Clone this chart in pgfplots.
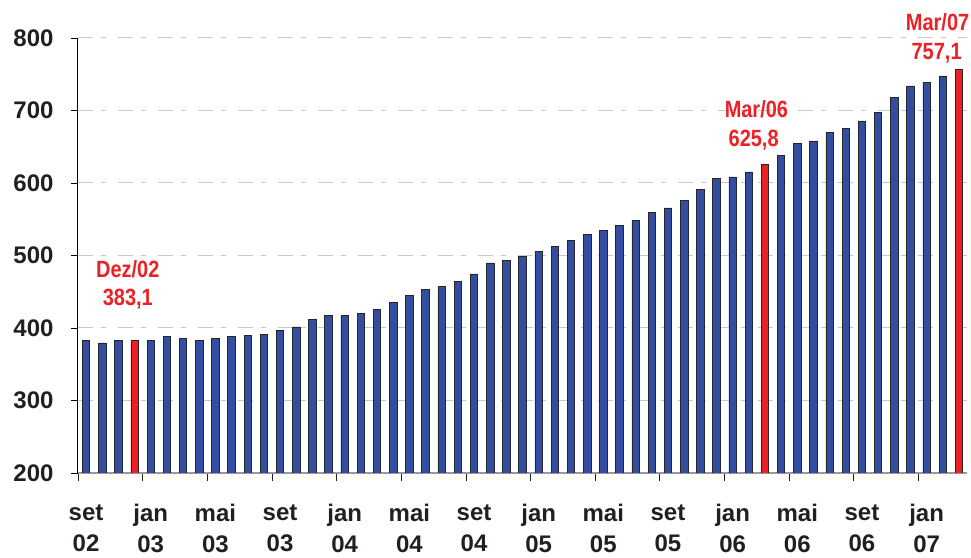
\documentclass[border=0pt]{standalone}
\usepackage{fontspec}
\setmainfont{Liberation Sans}
\newfontfamily\narrowfont[FakeStretch=0.85]{Liberation Sans}
\usepackage{pgfplots}
\pgfplotsset{compat=1.18}
\usetikzlibrary{calc}

\definecolor{barblue}{RGB}{51,78,160}
\definecolor{barred}{RGB}{237,32,38}
\definecolor{txt}{RGB}{35,31,32}
\definecolor{gridgray}{RGB}{200,200,200}

% month index (0 = set/02) and value
\pgfplotstableread{
x   y
0   383.0
1   379.4
2   383.0
4   383.0
5   388.1
6   386.2
7   383.0
8   386.2
9   388.0
10  389.5
11  391.7
12  396.3
13  401.4
14  411.9
15  417.0
16  417.0
17  420.6
18  425.8
19  434.7
20  444.9
21  453.7
22  456.9
23  463.9
24  474.5
25  489.8
26  493.1
27  498.6
28  505.6
29  512.5
30  521.3
31  529.6
32  534.7
33  541.7
34  548.6
35  559.3
36  565.7
37  576.2
38  591.5
39  606.4
40  608.3
41  615.2
43  637.7
44  654.7
45  658.0
46  669.9
47  675.4
48  685.6
49  697.1
50  718.2
51  733.9
52  738.9
53  747.7
}\bluebars

\pgfplotstableread{
x   y
3   383.1
42  625.8
54  757.1
}\redbars

\begin{document}
\begin{tikzpicture}
\begin{axis}[
    scale only axis,
    width=889pt, height=435pt,
    xmin=-0.5, xmax=54.5,
    ymin=200, ymax=800,
    ytick={200,300,...,800},
    axis x line*=bottom,
    axis y line*=left,
    x axis line style={draw=gray!80, line width=1.2pt},
    y axis line style={draw=black, line width=1pt},
    xtick={0,4,...,52},
    xticklabels={{set\\02},{jan\\03},{mai\\03},{set\\03},{jan\\04},{mai\\04},{set\\04},
                 {jan\\05},{mai\\05},{set\\05},{jan\\06},{mai\\06},{set\\06},{jan\\07}},
    minor xtick={-0.5,3.5,...,51.5},
    major x tick style={draw=none},
    minor x tick style={draw=txt, line width=0.8pt},
    minor tick length=8pt,
    tick align=outside,
    y tick style={draw=black, line width=0.8pt},
    major tick length=7pt,
    ymajorgrids=true,
    grid style={draw=gridgray, line width=1pt, dash pattern=on 15pt off 8pt on 5pt off 12pt},
    /pgf/number format/assume math mode=true,
    ticklabel style={font=\bfseries\fontsize{24}{31}\selectfont, text=txt},
    xticklabel style={align=center, yshift=-21pt},
    yticklabel style={xshift=-14pt},
    clip mode=individual,
    ybar,
    bar width=0.46,
]
\addplot[bar shift=0pt, fill=barblue, draw=black!85, line width=0.7pt] table[x=x, y=y] {\bluebars};
\addplot[bar shift=0pt, fill=barred, draw=black!85, line width=0.7pt] table[x=x, y=y] {\redbars};

\begin{scope}[every node/.style={font=\narrowfont\bfseries\fontsize{23.5}{28}\selectfont, text=barred, anchor=base}]
\node at (axis cs:2.58,470.3) {Dez/02};
\node at (axis cs:2.58,431.7) {383,1};
\node at (axis cs:41.47,689.7) {Mar/06};
\node at (axis cs:41.3,649.7) {625,8};
\node at (axis cs:52.68,809.7) {Mar/07};
\node at (axis cs:52.62,769.7) {757,1};
\end{scope}
\end{axis}
\pgfresetboundingbox
\path ($(current axis.south west)+(-78pt,-85pt)$) rectangle ($(current axis.north east)+(4pt,38pt)$);
\end{tikzpicture}
\end{document}
